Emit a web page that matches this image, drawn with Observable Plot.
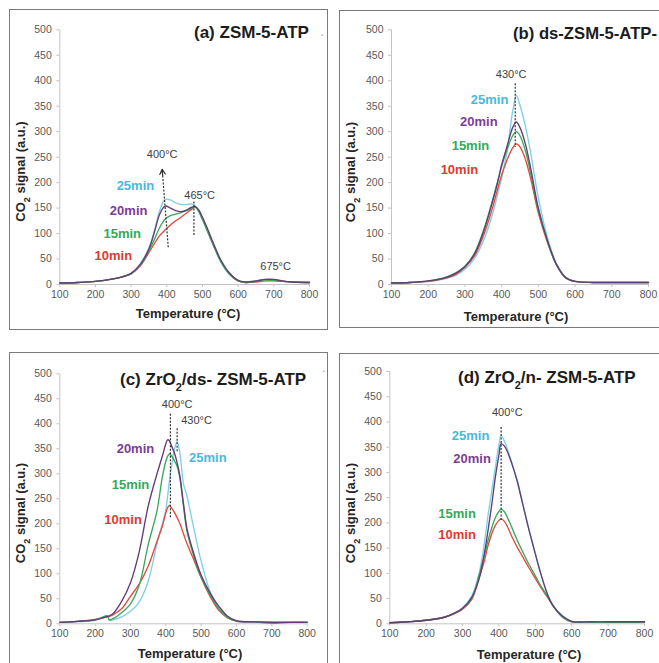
<!DOCTYPE html>
<html><head><meta charset="utf-8">
<script src="https://cdn.jsdelivr.net/npm/d3@7"></script>
<script src="https://cdn.jsdelivr.net/npm/@observablehq/plot@0.6"></script>
<style>
html,body{margin:0;padding:0;background:#fff;width:659px;height:663px;overflow:hidden;}
#root{position:relative;width:659px;height:663px;overflow:hidden;background:#fff;}
.layer{position:absolute;left:0;top:0;}
.frame{position:absolute;border:1.5px solid #7a7a7a;box-sizing:border-box;}
</style></head><body><div id="root"></div>
<script>
// ---------- data ----------
const series = ["10min", "15min", "20min", "25min"];
const xTicks = [100, 200, 300, 400, 500, 600, 700, 800];
const yTicks = [0, 50, 100, 150, 200, 250, 300, 350, 400, 450, 500];

// (a) ZSM-5-ATP
const tempsA = [100,150,200,250,275,300,325,350,365,380,395,410,425,440,455,470,480,490,500,515,530,550,575,600,620,650,675,700,725,750,800];
const a10 = [3,4,6,11,15,21,36,63,80,96,107,117,125,132,140,148,152,144,129,104,79,48,22,7,4,5,7,7,6,5,4];
const a15 = [3,4,6,11,15,21,37,66,88,112,128,135,138,141,145,150,152,143,128,103,78,47,21,7,4,6,9,8,6,5,4];
const a20 = [3,4,6,11,15,22,39,70,102,138,154,150,145,143,146,152,153,146,132,108,82,50,23,8,5,7,10,10,7,5,4];
const a25 = [3,4,6,11,15,22,40,72,105,145,167,166,160,157,157,158,154,142,127,103,78,46,20,7,4,7,10,9,6,5,4];

// (b) ds-ZSM-5-ATP
const tempsB = [100,150,200,250,275,300,325,350,375,390,400,415,430,440,450,465,480,500,525,550,575,600,650,700,750,800];
const b10 = [3,4,6,13,20,34,55,95,150,190,215,245,268,276,270,245,205,140,82,38,13,6,4,4,4,4];
const b15 = [3,4,7,15,23,36,60,105,165,205,232,265,292,300,292,262,215,145,84,38,13,6,4,4,4,4];
const b20 = [3,4,7,14,22,35,58,102,162,203,235,272,308,319,308,275,225,150,86,38,13,6,4,4,4,4];
const b25 = [3,4,6,12,18,30,50,85,138,180,210,262,340,371,352,310,255,170,92,40,14,6,4,4,4,4];

// (c) ZrO2/ds- ZSM-5-ATP
const tempsC = [100,150,200,235,240,250,275,300,325,350,375,390,400,405,410,415,425,432,440,450,460,475,500,525,550,575,600,650,700,750,800];
const c10 = [3,5,9,14,15,18,30,55,80,115,165,195,222,232,237,233,222,212,200,180,160,135,92,55,27,12,6,4,3,3,3];
const c15 = [3,5,8,16,8,10,22,40,78,158,226,293,325,335,340,337,325,315,290,235,185,145,93,58,30,12,5,4,1,3,3];
const c20 = [3,5,8,15,16,20,45,82,145,235,300,335,360,368,366,358,340,322,295,240,190,150,97,62,35,15,6,4,3,3,3];
const c25 = [3,4,7,15,7,8,14,25,44,85,160,200,228,255,285,310,350,365,340,280,255,205,125,65,30,13,6,4,4,4,4];

// (d) ZrO2/n- ZSM-5-ATP
const tempsD = [100,150,200,250,275,300,325,345,360,370,380,390,400,406,415,425,436,450,465,480,500,515,533,550,575,600,650,700,750,800];
const d10 = [2,4,7,13,19,29,48,90,125,155,178,195,205,208,203,190,172,152,133,114,90,72,53,34,13,4,3,3,3,3];
const d15 = [2,4,7,13,20,30,50,95,135,165,190,210,223,227,222,208,190,166,143,121,95,75,55,35,13,4,3,3,3,3];
const d20 = [2,4,7,13,20,31,52,88,140,185,235,290,335,357,352,338,316,283,238,193,138,99,59,34,15,5,4,4,4,4];
const d25 = [2,4,7,13,20,32,55,99,160,215,262,310,355,373,362,342,318,285,240,195,140,100,60,35,16,5,4,4,4,4];

// series label positions (T, signal)
const labelsA = [{s:"25min",T:312,v:193},{s:"20min",T:293,v:145},{s:"15min",T:275,v:99},{s:"10min",T:250,v:56}];
const labelsB = [{s:"25min",T:367,v:363},{s:"20min",T:338,v:319},{s:"15min",T:315,v:272},{s:"10min",T:285,v:225}];
const labelsC = [{s:"20min",T:314,v:349},{s:"25min",T:519,v:331},{s:"15min",T:300,v:278},{s:"10min",T:279,v:207}];
const labelsD = [{s:"25min",T:322,v:373},{s:"20min",T:326,v:326},{s:"15min",T:285,v:218},{s:"10min",T:285,v:177}];

// temperature annotations
const notesA = [{t:"400°C",T:387,v:255},{t:"465°C",T:492,v:175},{t:"675°C",T:705,v:35}];
const notesB = [{t:"430°C",T:426,v:412}];
const notesC = [{t:"400°C",T:432,v:439},{t:"430°C",T:487,v:407}];
const notesD = [{t:"400°C",T:423,v:418}];

// dashed guide lines
const dashA = [{T1:476,v1:163,T2:476,v2:96}];
const arrowA = [{T1:404,v1:73,T2:387,v2:226}];
const dashB = [{T1:437,v1:395,T2:437,v2:270}];
const dashC = [{T1:413,v1:420,T2:413,v2:210},{T1:432,v1:391,T2:432,v2:343}];
const dashD = [{T1:406,v1:390,T2:406,v2:205}];

// ---------- styles ----------
const lineColors = ["#e24a3f", "#3aa85c", "#633c78", "#7fd0e6"];
const labelColors = {"10min":"#e0392f","15min":"#33a95a","20min":"#7d3c94","25min":"#48b9dc"};
const font = "'Liberation Sans', Arial, Helvetica, sans-serif";
const W = 659, H = 663;

const panels = [
  {temps:tempsA, vals:[a10,a15,a20,a25], labels:labelsA, notes:notesA, dash:dashA, arrow:arrowA, x0:59.3, x1:309, y0:284, y1:29.3},
  {temps:tempsB, vals:[b10,b15,b20,b25], labels:labelsB, notes:notesB, dash:dashB, arrow:[], x0:391, x1:648, y0:284, y1:29.3},
  {temps:tempsC, vals:[c10,c15,c20,c25], labels:labelsC, notes:notesC, dash:dashC, arrow:[], x0:59.3, x1:306.7, y0:623.3, y1:373.3},
  {temps:tempsD, vals:[d10,d15,d20,d25], labels:labelsD, notes:notesD, dash:dashD, arrow:[], x0:389.3, x1:644, y0:623.3, y1:371}
];
const frames = [
  {l:9, t:9, w:319, h:321},
  {l:339, t:10, w:330, h:318},
  {l:9, t:352, w:319, h:330},
  {l:339, t:353, w:330, h:330}
];

const root = document.getElementById("root");
frames.forEach(f => {
  const d = document.createElement("div");
  d.className = "frame";
  Object.assign(d.style, {left:f.l+"px", top:f.t+"px", width:f.w+"px", height:f.h+"px"});
  root.appendChild(d);
});

const drawOrder = [3, 0, 1, 2];
panels.forEach(p => {
  const rows = drawOrder.flatMap(k => p.temps.map((t, i) => ({T:t, v:p.vals[k][i], s:series[k]})));
  const chart = Plot.plot({
    width: W, height: H,
    marginLeft: p.x0, marginRight: W - p.x1, marginTop: p.y1, marginBottom: H - p.y0,
    x: {domain:[100, 800]},
    y: {domain:[0, 500]},
    color: {domain: series, range: lineColors},
    style: {background:"transparent", fontFamily: font, fontSize:"10.5px", color:"#595959", overflow:"visible"},
    marks: [
      Plot.axisY({ticks: yTicks, tickSize: 3, tickPadding: 5, stroke:"#c4c4c4", fill:"#595959", label:null, fontSize:10.5}),
      Plot.axisX({ticks: xTicks, tickSize: 3, tickPadding: 3, stroke:"#c4c4c4", fill:"#595959", label:null, fontSize:10.5}),
      Plot.ruleX([100], {stroke:"#c4c4c4"}),
      Plot.ruleY([0], {stroke:"#c4c4c4"}),
      Plot.line(rows, {x:"T", y:"v", z:"s", stroke:"s", curve:"catmull-rom", strokeWidth:1.35}),
      Plot.link(p.dash, {x1:"T1", y1:"v1", x2:"T2", y2:"v2", stroke:"#333", strokeWidth:1.2, strokeDasharray:"2,1.5"}),
      Plot.link(p.arrow, {x1:"T1", y1:"v1", x2:"T2", y2:"v2", stroke:"#333", strokeWidth:1.2, strokeDasharray:"2,1.5"}),
      Plot.arrow(p.arrow, {x1:"T1", y1:"v1", x2:"T2", y2:"v2", stroke:"#333", strokeWidth:1.2, headLength:7, insetStart:72}),
      Plot.text(p.notes, {x:"T", y:"v", text:"t", fill:"#404040", fontSize:11}),
      Plot.text(p.labels, {x:"T", y:"v", text:"s", fill: d => labelColors[d.s], fontSize:13, fontWeight:"bold"})
    ]
  });
  chart.classList.add("layer");
  root.appendChild(chart);
});

// titles and axis labels
const ns = "http://www.w3.org/2000/svg";
const ov = document.createElementNS(ns, "svg");
ov.setAttribute("width", W); ov.setAttribute("height", H);
ov.setAttribute("class", "layer");
ov.style.fontFamily = font;
const sub = '<tspan baseline-shift="sub" font-size="11">2</tspan>';
const subY = '<tspan baseline-shift="sub" font-size="9">2</tspan>';
ov.innerHTML = `
<g font-weight="bold" font-size="17" fill="#1c1c1c">
  <text x="194" y="38.3">(a) ZSM-5-ATP</text>
  <text x="513" y="39.3" textLength="144" lengthAdjust="spacingAndGlyphs">(b) ds-ZSM-5-ATP-</text>
  <text x="120" y="385">(c) ZrO${sub}<tspan>/ds- ZSM-5-ATP</tspan></text>
  <text x="458" y="383.3">(d) ZrO${sub}<tspan>/n- ZSM-5-ATP</tspan></text>
</g>
<g font-size="12" fill="#9a9a9a">
  <text x="320.5" y="36">.</text>
  <text x="322" y="372">.</text>
</g>
<g font-weight="bold" font-size="13" fill="#262626" text-anchor="middle">
  <text x="188" y="318">Temperature (°C)</text>
  <text x="516" y="321">Temperature (°C)</text>
  <text x="190" y="658">Temperature (°C)</text>
  <text x="529" y="659">Temperature (°C)</text>
  <text transform="translate(25,171.5) rotate(-90)">CO${subY}<tspan> signal (a.u.)</tspan></text>
  <text transform="translate(355,172) rotate(-90)">CO${subY}<tspan> signal (a.u.)</tspan></text>
  <text transform="translate(25,513) rotate(-90)">CO${subY}<tspan> signal (a.u.)</tspan></text>
  <text transform="translate(355,513) rotate(-90)">CO${subY}<tspan> signal (a.u.)</tspan></text>
</g>`;
root.appendChild(ov);
</script></body></html>
